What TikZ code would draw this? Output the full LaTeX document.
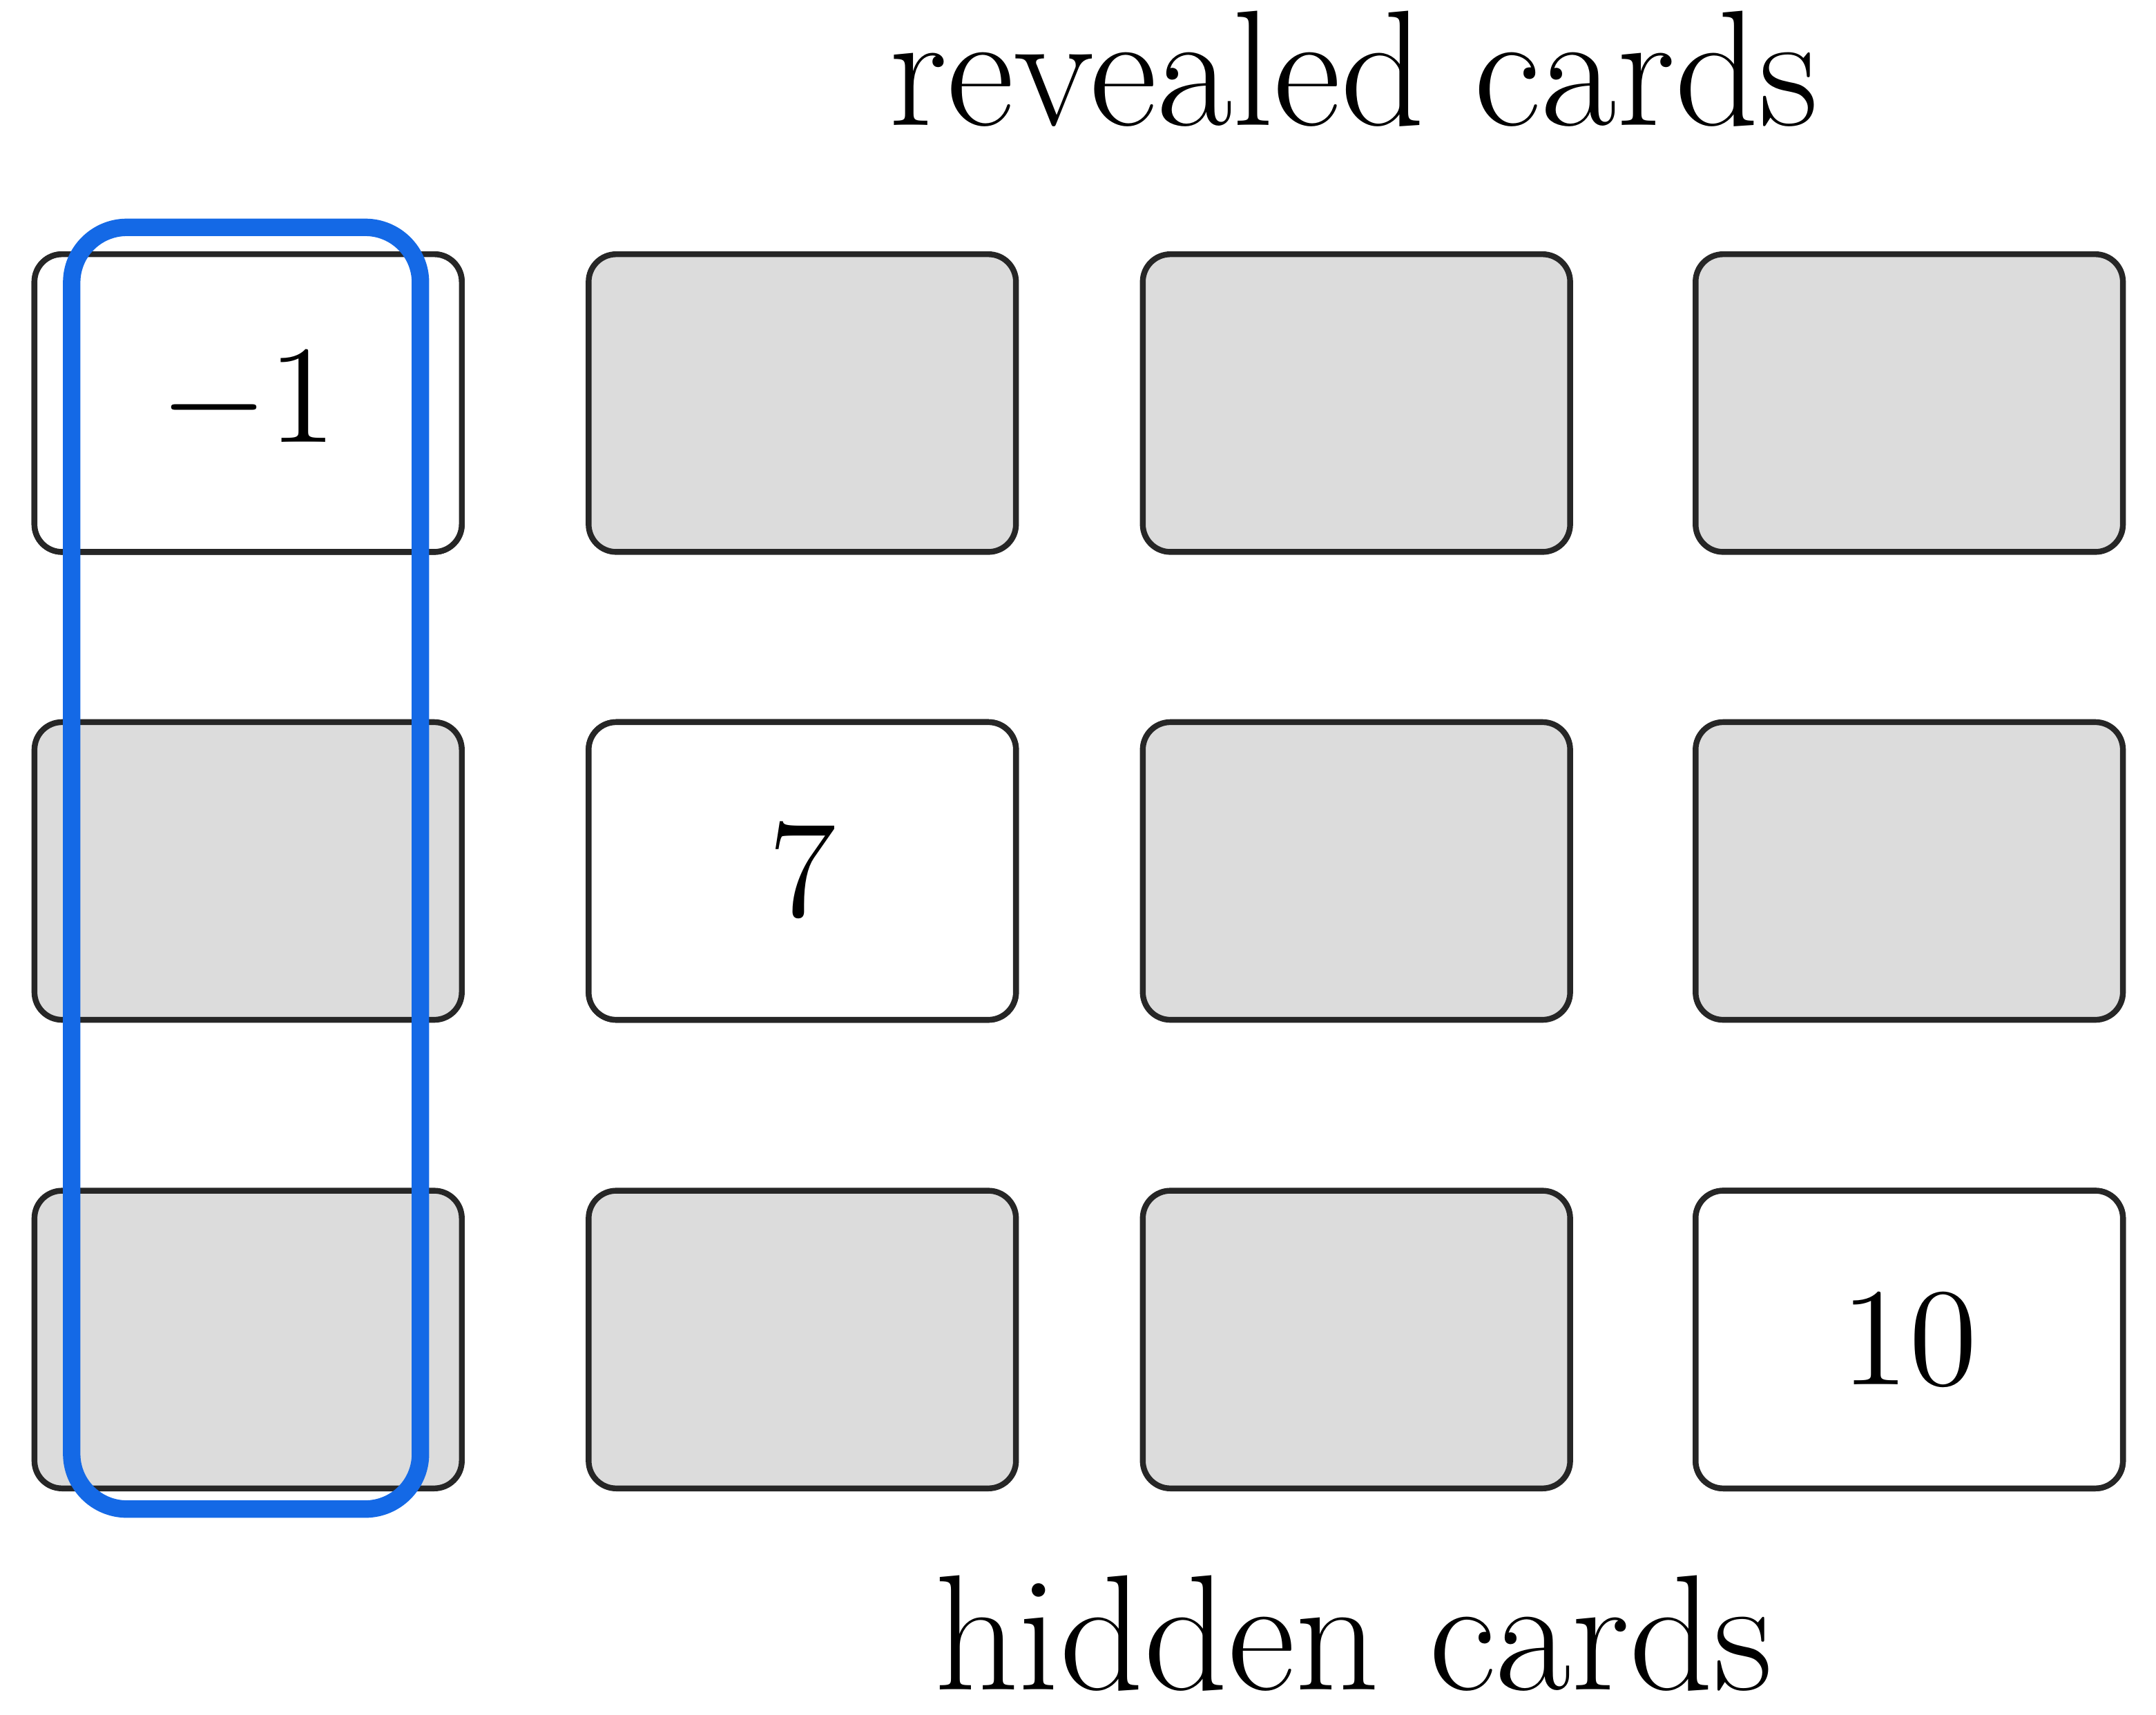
\documentclass[tikz,border=0pt]{standalone}
\usepackage{tikz}
\usetikzlibrary{positioning}

\definecolor{cardgray}{RGB}{220,220,220}
\definecolor{pickblue}{RGB}{20,105,230}

\tikzset{
  card/.style={draw=black!85, line width=0.6pt, rounded corners=0.1cm,
    minimum width=1.55cm, minimum height=1.08cm, inner sep=0pt,
    font=\fontsize{15}{18}\selectfont},
  hidden/.style={card, fill=cardgray},
  shown/.style={card, fill=white},
  caption/.style={font=\fontsize{17}{20}\selectfont}
}

\begin{document}
\begin{tikzpicture}[x=0.5cm, y=0.5cm]
    \useasboundingbox (0,0) rectangle (15.64,-12.44);
    % Cards
    \foreach \r/\y in {1/-2.925, 2/-6.32, 3/-9.72}
      \foreach \c/\x in {1/1.80, 2/5.82, 3/9.84, 4/13.85}
        \node (card-\r-\c)[hidden] at (\x,\y) {};
    \node (card-1-1)[shown] at (1.80,-2.925) {$-1$};
    \node (card-2-2)[shown] at (5.82,-6.32) {$7$};
    \node (card-3-4)[shown] at (13.85,-9.72) {$10$};

    % Labels
    \node (revealed)[caption] at (9.82,-0.5) {revealed cards};
    \node (hidden)[caption] at (9.82,-11.85) {hidden cards};

    % Column
    \draw[pickblue, line width=1.8pt, rounded corners=0.2cm] (0.52,-1.65) rectangle (3.05,-10.95);
\end{tikzpicture}
\end{document}
